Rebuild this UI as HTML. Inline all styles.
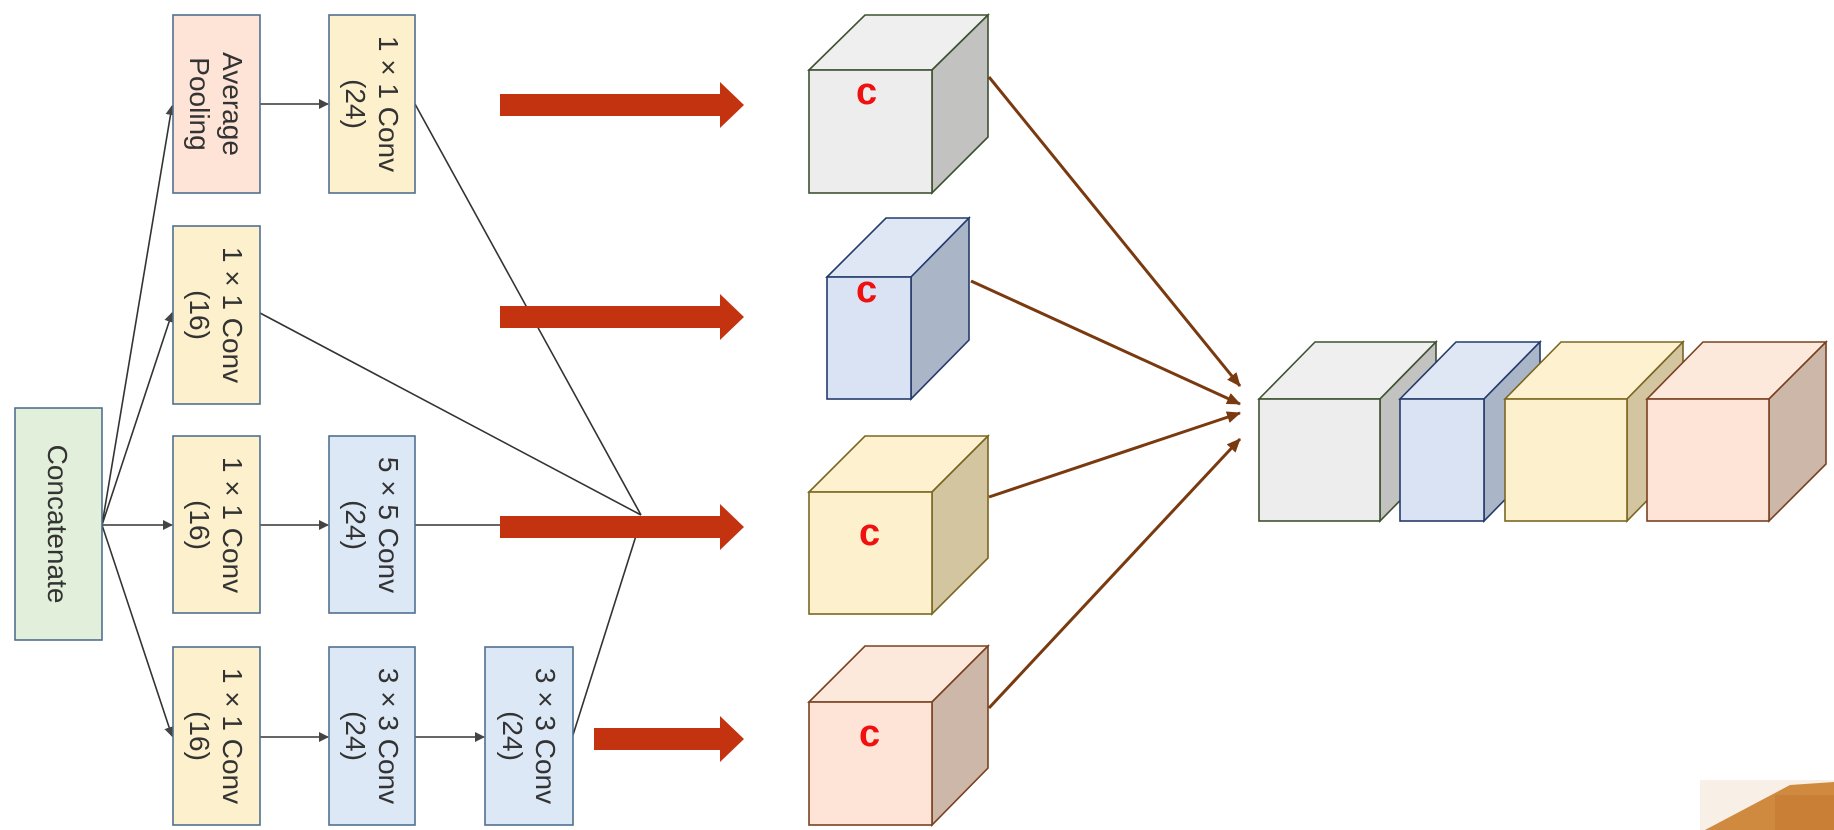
<!DOCTYPE html>
<html><head><meta charset="utf-8"><style>
html,body{margin:0;padding:0;background:#fff;}
svg{display:block;}
text{font-family:"Liberation Sans","DejaVu Sans",sans-serif;}
</style></head><body>
<svg width="1834" height="830" viewBox="0 0 1834 830" xmlns="http://www.w3.org/2000/svg">
<defs>
<marker id="ak" markerWidth="10" markerHeight="10" refX="9" refY="5" orient="auto" markerUnits="userSpaceOnUse"><path d="M0,0 L10,5 L0,10 z" fill="#444"/></marker>
<marker id="ab" markerWidth="14" markerHeight="12" refX="13" refY="6" orient="auto" markerUnits="userSpaceOnUse"><path d="M0,0 L14,6 L0,12 z" fill="#7a3a10"/></marker>
</defs>
<rect width="1834" height="830" fill="#fff"/>

<g stroke="#333" stroke-width="1.6" fill="none">
<line x1="102" y1="525" x2="172" y2="106" marker-end="url(#ak)"/>
<line x1="102" y1="525" x2="172" y2="313" marker-end="url(#ak)"/>
<line x1="102" y1="525" x2="172" y2="525" marker-end="url(#ak)"/>
<line x1="102" y1="525" x2="172" y2="736" marker-end="url(#ak)"/>
<line x1="260" y1="104" x2="328" y2="104" marker-end="url(#ak)"/>
<line x1="260" y1="525" x2="328" y2="525" marker-end="url(#ak)"/>
<line x1="260" y1="737" x2="328" y2="737" marker-end="url(#ak)"/>
<line x1="415" y1="737" x2="484" y2="737" marker-end="url(#ak)"/>
<line x1="415" y1="104" x2="641" y2="515"/>
<line x1="260" y1="313" x2="641" y2="515"/>
<line x1="415" y1="525" x2="500" y2="525"/>
<line x1="573" y1="735" x2="641" y2="520"/>
</g>

<g stroke="#4f6f8f" stroke-width="1.6">
<rect x="15" y="408" width="87" height="232" fill="#e2efda"/>
<rect x="173" y="15" width="87" height="178" fill="#fde4d6"/>
<rect x="173" y="226" width="87" height="178" fill="#fdf0cc"/>
<rect x="173" y="436" width="87" height="177" fill="#fdf0cc"/>
<rect x="173" y="647" width="87" height="178" fill="#fdf0cc"/>
<rect x="329" y="15" width="86" height="178" fill="#fdf0cc"/>
<rect x="329" y="436" width="86" height="177" fill="#dde8f6"/>
<rect x="329" y="647" width="86" height="178" fill="#dde8f6"/>
<rect x="485" y="647" width="88" height="178" fill="#dde8f6"/>
</g>
<g font-size="28" fill="#333" text-anchor="middle">
<text transform="translate(58,524) rotate(90)" y="10">Concatenate</text>
<text transform="translate(216,104) rotate(90)"><tspan x="0" y="-7">Average</tspan><tspan x="0" y="26">Pooling</tspan></text>
<text transform="translate(216,315) rotate(90)"><tspan x="0" y="-7">1 × 1 Conv</tspan><tspan x="0" y="26">(16)</tspan></text>
<text transform="translate(216,525) rotate(90)"><tspan x="0" y="-7">1 × 1 Conv</tspan><tspan x="0" y="26">(16)</tspan></text>
<text transform="translate(216,736) rotate(90)"><tspan x="0" y="-7">1 × 1 Conv</tspan><tspan x="0" y="26">(16)</tspan></text>
<text transform="translate(372,104) rotate(90)"><tspan x="0" y="-7">1 × 1 Conv</tspan><tspan x="0" y="26">(24)</tspan></text>
<text transform="translate(372,525) rotate(90)"><tspan x="0" y="-7">5 × 5 Conv</tspan><tspan x="0" y="26">(24)</tspan></text>
<text transform="translate(372,736) rotate(90)"><tspan x="0" y="-7">3 × 3 Conv</tspan><tspan x="0" y="26">(24)</tspan></text>
<text transform="translate(529,736) rotate(90)"><tspan x="0" y="-7">3 × 3 Conv</tspan><tspan x="0" y="26">(24)</tspan></text>
</g>

<g fill="#c4330f">
<path d="M500,94 H720 V82 L744,105 L720,128 V116 H500 z"/>
<path d="M500,306 H720 V294 L744,317 L720,340 V328 H500 z"/>
<path d="M500,516 H720 V504 L744,527 L720,550 V538 H500 z"/>
<path d="M594,728 H720 V716 L744,739 L720,762 V750 H594 z"/>
</g>

<g stroke-width="1.6">
<g stroke="#3d5030"><polygon points="809,70 865,15 988,15 932,70" fill="#efefef"/><polygon points="932,70 988,15 988,137 932,193" fill="#c2c2c0"/><rect x="809" y="70" width="123" height="123" fill="#ededed"/></g>
<g stroke="#233a6a"><polygon points="827,277 886,218 969,218 911,277" fill="#dfe6f4"/><polygon points="911,277 969,218 969,340 911,399" fill="#aab5c8"/><rect x="827" y="277" width="84" height="122" fill="#d9e3f3"/></g>
<g stroke="#7a6620"><polygon points="809,492 865,436 988,436 932,492" fill="#fdf1d0"/><polygon points="932,492 988,436 988,558 932,614" fill="#d2c5a0"/><rect x="809" y="492" width="123" height="122" fill="#fdf0cc"/></g>
<g stroke="#7a4020"><polygon points="809,702 865,646 988,646 932,702" fill="#fde8dc"/><polygon points="932,702 988,646 988,768 932,825" fill="#ccb7a8"/><rect x="809" y="702" width="123" height="123" fill="#fde4d6"/></g>
<g stroke="#3d5030"><polygon points="1259,399 1315,342 1436,342 1380,399" fill="#efefef"/><polygon points="1380,399 1436,342 1436,464 1380,521" fill="#c2c2c0"/><rect x="1259" y="399" width="121" height="122" fill="#ededed"/></g>
<g stroke="#233a6a"><polygon points="1400,399 1456,342 1540,342 1484,399" fill="#dfe6f4"/><polygon points="1484,399 1540,342 1540,464 1484,521" fill="#aab5c8"/><rect x="1400" y="399" width="84" height="122" fill="#d9e3f3"/></g>
<g stroke="#7a6620"><polygon points="1505,399 1561,342 1683,342 1627,399" fill="#fdf1d0"/><polygon points="1627,399 1683,342 1683,464 1627,521" fill="#d2c5a0"/><rect x="1505" y="399" width="122" height="122" fill="#fdf0cc"/></g>
<g stroke="#7a4020"><polygon points="1647,399 1703,342 1826,342 1769,399" fill="#fde8dc"/><polygon points="1769,399 1826,342 1826,464 1769,521" fill="#ccb7a8"/><rect x="1647" y="399" width="122" height="122" fill="#fde4d6"/></g>
</g>
<g fill="#f01010" font-size="38" font-weight="bold" font-family="'Liberation Sans',sans-serif">
<text x="856" y="104">c</text>
<text x="856" y="302">c</text>
<text x="859" y="545">c</text>
<text x="859" y="746">c</text>
</g>

<g stroke="#7a3a10" stroke-width="3" fill="none">
<line x1="989" y1="77" x2="1240" y2="386" marker-end="url(#ab)"/>
<line x1="971" y1="281" x2="1240" y2="404" marker-end="url(#ab)"/>
<line x1="989" y1="497" x2="1240" y2="413" marker-end="url(#ab)"/>
<line x1="989" y1="708" x2="1240" y2="439" marker-end="url(#ab)"/>
</g>

<polygon points="1700,780 1834,780 1834,830 1700,830" fill="#f8efe6"/>
<polygon points="1705,830 1790,785 1834,782 1834,830" fill="#d08a40"/>
<polygon points="1775,795 1834,795 1834,830 1775,830" fill="#c97f35"/>
</svg>
</body></html>
